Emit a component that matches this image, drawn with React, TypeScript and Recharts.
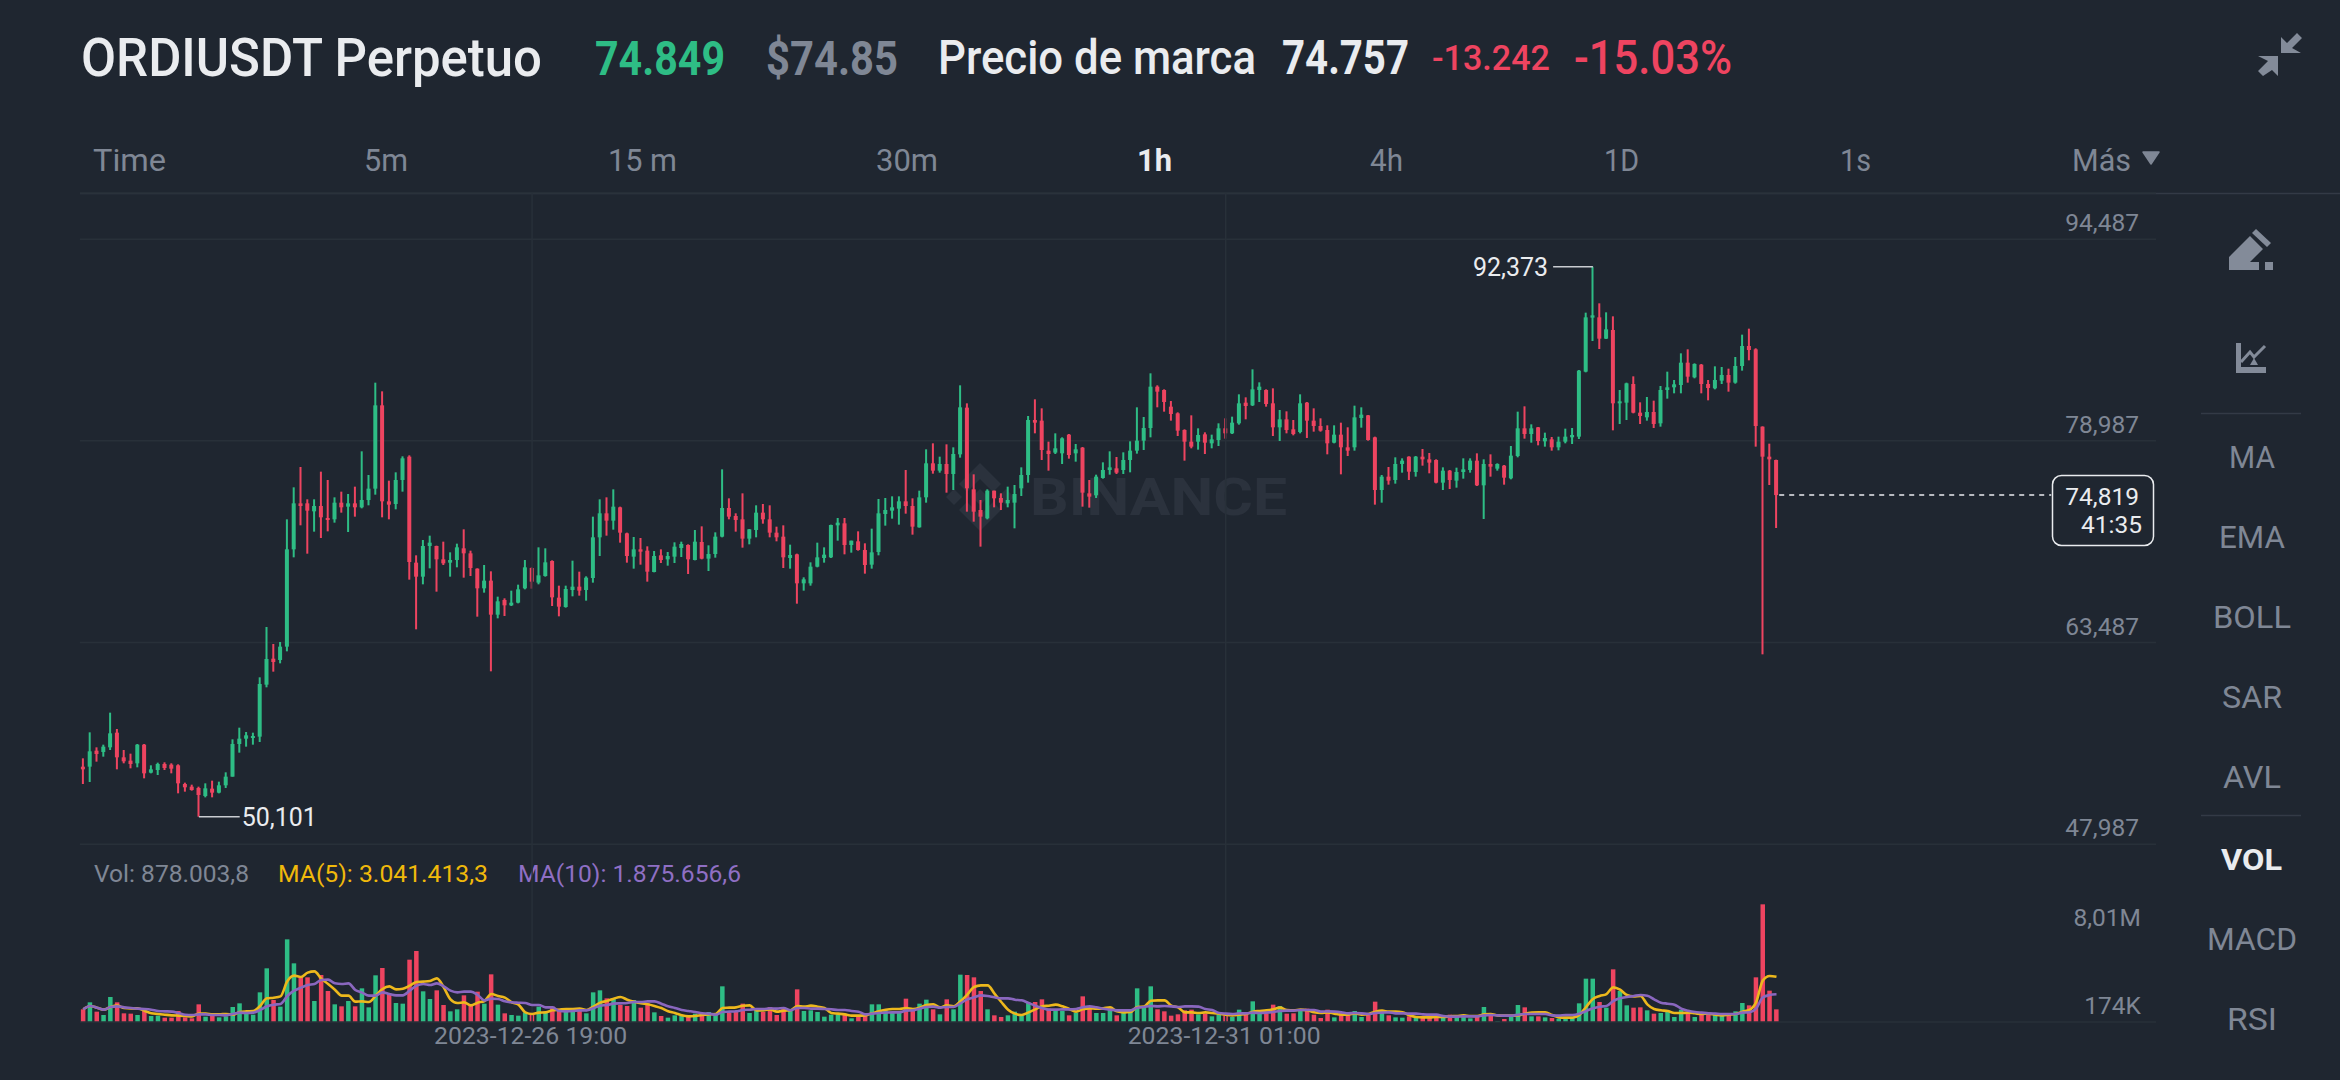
import React from 'react';
import { ComposedChart, Bar, Line, XAxis, YAxis, CartesianGrid, ReferenceLine, ReferenceDot } from 'recharts';

const opens = [53946,53946,55176,55074,55432,56559,54664,54408,54203,55637,
53485,53690,54152,54100,54049,52614,52409,52307,51692,52256,
51948,52512,53178,55688,56098,56150,56252,60249,62247,62145,
63170,70650,74186,74186,73571,73981,73059,72956,74237,73930,
74186,73879,74442,75314,81718,74340,74135,75980,77773,69626,
68550,70907,70907,69882,69626,69831,70728,70343,69165,67653,
68243,65629,66756,66346,66551,67653,69216,68089,68601,69754,
66935,66218,67525,67781,67525,68447,71573,73418,72854,73879,
71880,70087,70650,70548,68908,70189,69882,70087,70753,70984,
69831,71214,69933,70292,71624,73827,73213,72956,71471,72137,
73469,72956,71932,71624,69985,70266,68037,68037,69318,69985,
70035,72495,72649,70984,71266,70599,69472,70446,73366,73623,
73776,74340,73981,72342,74647,77261,76697,77210,76441,77952,
81539,75262,73674,73033,75160,74596,74186,74237,75339,76364,
80591,80540,78234,78081,78029,79464,78029,78465,74955,74801,
76133,76748,76876,76748,77517,78234,79003,79976,83153,82897,
81616,81104,79823,78926,78926,79490,78798,79054,79951,79566,
80335,81923,81718,82897,82897,81872,80028,80642,79874,79669,
81923,80540,80130,79823,78849,79464,78490,78490,80745,80950,
79259,75211,76236,75980,77210,77773,76595,77773,77568,77517,
75775,76697,75928,76594,76748,77466,75570,77210,76851,77081,
76108,77824,79951,79515,80028,78952,79105,78490,78926,79259,
79310,84306,88457,88482,86842,87509,81872,81923,83358,81155,
80796,81206,80335,82897,83102,83281,84998,83871,84844,83358,
83025,83614,84050,83461,84742,86279,86023,80079,77773,77517];

const highs = [54587,56585,55432,55637,58097,56841,55227,54946,55688,55688,
54049,54254,54280,54203,54126,52717,52563,52409,52665,52870,
52793,53511,56047,56943,56610,56559,60813,64681,63375,63528,
72956,75416,76979,74494,74494,76620,75980,74647,75083,74904,
75467,78183,76364,83460,82794,75928,76569,77799,77875,70190,
71368,71701,70933,71240,70420,71086,72188,70548,69190,69446,
68960,67013,66885,67473,67935,69831,69267,70804,70728,69805,
67858,67858,69779,68934,68575,73161,74494,74647,75262,73930,
71932,71599,71522,70881,70522,70650,70445,71189,71240,71035,
72137,72418,70958,71957,76799,74570,73418,74955,72213,74033,
74135,74033,72393,72495,71009,70317,68499,69651,71163,70804,
72546,73059,73059,71317,72034,71112,72239,74519,74596,74724,
74724,76748,74570,75160,78337,78798,77773,78721,78490,83256,
81872,76415,74442,75262,75160,74955,75467,75595,76953,80899,
82180,81488,78926,79566,79259,79515,78747,78516,75980,76389,
77337,78183,77747,78106,78952,81565,80822,84178,83256,82948,
82051,81180,79874,80950,79951,79643,79464,80335,80719,80847,
82564,82333,84485,83486,82948,83025,81360,81257,80591,82564,
81975,81488,80719,80181,80181,80386,80028,81693,81565,80975,
79310,76364,76979,77722,77645,77799,77824,78362,78055,77568,
76953,76748,76927,77645,77645,78029,77568,77952,77261,77133,
78593,81232,81642,80258,80053,79618,79285,79310,79925,79976,
84434,88841,92373,89558,88866,88559,82897,83461,83947,81949,
82359,82077,83204,84306,83666,85715,86023,84947,84895,83666,
84716,84665,84537,85433,87150,87611,86100,80104,78772,77542];

const lows = [52614,52768,54331,54715,55227,53741,54203,53818,53895,53050,
53434,53306,53690,53434,51897,52025,52102,50101,51589,51589,
51897,52307,53178,55023,55484,55637,55842,60044,61248,61888,
62811,70035,72495,70317,72009,71522,72034,72700,73469,71983,
73161,73802,74033,74852,73110,72956,73725,75083,68319,64502,
67961,69190,67397,69446,68550,69267,68473,68601,65475,67320,
61274,65347,65527,66295,66500,67576,67627,67961,68550,66295,
65501,66167,67038,67090,66705,68089,70138,71701,72162,71163,
69626,69165,69472,68166,68883,69600,69395,69600,70061,68755,
69805,69882,68985,70010,71573,72956,72009,70779,71035,71573,
72623,71573,71266,69216,69165,66474,67474,67858,69267,69626,
69985,71317,70266,70394,70548,68780,69165,70190,72470,73008,
72546,73392,71778,72316,74237,76466,76543,75006,75211,77696,
73546,72777,70856,72956,73879,73674,73879,72265,74750,75775,
79566,77517,76697,77978,77210,77619,77389,73930,73853,74596,
76082,76389,76441,76441,76569,78004,78285,79259,81565,81232,
80540,79361,77466,78414,78311,77978,78414,78593,79157,79515,
80232,80642,81667,81975,81616,79361,78977,79566,79413,79566,
79208,79695,79695,77952,78798,76415,77824,78234,80002,79003,
74084,74237,75621,75698,76543,75980,76236,77081,76492,75723,
75211,75288,75390,76082,76543,75518,72982,76236,76697,75621,
76031,77722,79157,78849,78644,78542,78234,78260,78798,78747,
79131,84255,86663,86048,86817,79797,80284,80591,81104,80284,
80540,79976,80079,82231,82641,82641,83461,83794,82641,82103,
82948,83358,82769,83384,84383,85177,78542,62580,75595,72290];

const closes = [53741,55125,54920,55484,56508,54664,54357,54152,55637,53434,
53741,54152,53844,53792,52665,52358,52153,51769,52281,51948,
52512,53178,55688,56098,56354,56303,60300,62222,61991,63170,
70650,74186,73981,73623,73981,73110,72905,74237,73879,74186,
73879,74442,75314,81718,74340,74084,75980,77645,69677,68550,
70907,71163,69882,69575,69831,70804,70343,69216,67653,68243,
65629,66654,66346,66551,67576,69267,68166,68652,69651,66961,
66244,67602,67781,67473,68473,71573,73418,72854,73930,71932,
70138,70650,70471,68934,70138,69831,70138,70856,71061,69882,
71240,69933,70292,71624,73827,73161,72905,71471,72188,73469,
72956,71932,71573,70035,70215,68037,68345,69318,70035,70241,
72521,72700,70984,71317,70599,69446,70420,73418,73674,73879,
74340,73981,72393,74647,77261,76697,77210,76441,77978,81565,
75339,73546,73161,75160,74571,74237,74442,74904,76364,80591,
80386,78285,77978,78414,79182,77901,78337,75006,74699,76236,
76748,76953,76544,77517,78234,79003,79976,83153,82769,81975,
81052,79771,78926,78542,79438,78849,79105,79951,79566,80386,
81872,81667,82948,83153,81821,80028,80642,79823,79515,81872,
80540,80130,79771,78798,79464,78490,78234,80796,81001,79054,
75211,76236,75928,77210,77466,76620,77773,77568,77312,75775,
76697,75980,76594,76799,77466,75570,77210,77005,77210,76159,
77850,79951,79515,79951,78977,79208,78490,78926,79310,79438,
84383,88482,88636,86842,87560,81872,82026,83409,81155,80899,
81206,80284,82897,83102,83333,84998,83922,84895,83358,83051,
83666,84050,83461,84742,86279,85971,80130,77773,77568,74819];

const volumesK = [879,1344,724,502,1698,1344,613,591,502,879,
436,458,325,325,768,347,281,1211,391,458,
347,414,1034,1277,613,524,2008,3603,1499,1056,
5529,3935,3093,3005,1432,3160,2097,1211,1078,1432,
1078,2274,1011,3138,3625,1942,1299,1255,4178,4754,
2075,1565,2141,1166,746,879,1809,1144,2052,1255,
3204,1189,613,502,458,679,569,1056,679,1056,
923,834,967,834,613,2008,2141,1609,1609,1166,
1100,1499,989,1277,679,436,325,480,436,369,
591,635,701,546,2407,657,724,1255,635,768,
701,1034,502,967,812,2207,768,812,701,391,
524,546,524,281,369,635,1211,1211,812,635,
635,1587,812,1255,1521,879,546,1543,879,3182,
3160,3005,2097,879,480,369,480,724,480,1321,
1366,1543,923,790,768,480,657,1742,1100,635,
635,923,480,768,701,2274,1078,2407,879,746,
458,546,812,856,546,591,414,546,480,369,
856,546,1410,657,591,1189,1100,591,613,790,
923,524,303,856,347,635,502,768,369,546,
1388,834,480,347,325,414,325,325,347,414,
480,524,414,524,281,480,1034,480,81,236,
436,1166,1011,414,414,347,303,258,325,369,
1277,2916,2916,1366,989,3536,2097,1144,989,1011,
812,591,635,768,369,856,701,369,524,524,
546,480,524,746,1299,1144,3005,7855,2119,878];

const ma5K = [879,1100,989,856,1034,1122,967,945,945,790,
613,569,524,480,458,436,414,591,591,546,
546,569,524,701,746,768,1100,1609,1654,1742,
2739,3115,3027,3315,3403,2916,2562,2185,1787,1787,
1388,1410,1366,1787,2230,2407,2207,2252,2451,2695,
2717,2761,2938,2340,1543,1299,1344,1144,1321,1432,
1897,1764,1654,1344,1189,679,569,657,679,812,
856,901,901,923,834,1056,1321,1432,1587,1698,
1521,1388,1277,1211,1100,967,746,635,480,414,
436,502,546,569,967,989,1011,1122,1144,812,
812,879,724,790,812,1100,1056,1122,1056,967,
635,591,546,458,458,480,613,746,856,901,
901,967,901,989,1166,1211,1011,1144,1078,1410,
1853,2362,2473,2473,1920,1366,856,591,502,679,
879,1078,1122,1189,1078,901,724,879,945,923,
945,1011,746,679,701,1034,1056,1454,1477,1477,
1122,1011,679,679,635,679,635,591,524,480,
524,569,724,768,812,879,989,834,812,856,
812,679,635,679,591,524,524,613,524,569,
724,790,724,724,679,480,369,347,347,369,
369,414,436,480,436,436,546,569,480,458,
458,480,591,657,679,679,502,347,325,325,
502,1034,1565,1764,1897,2340,2185,1831,1742,1764,
1211,901,812,768,635,635,657,613,569,591,
524,480,524,569,724,834,1344,2805,3093,3041];

const ma10K = [879,1100,989,856,1034,1078,1011,967,923,901,
856,768,746,724,635,524,502,546,546,502,
502,480,569,657,635,657,834,1078,1189,1233,
1764,2119,2318,2495,2562,2828,2850,2606,2562,2606,
2163,1986,1787,1787,2008,1897,1809,1809,2119,2451,
2562,2495,2606,2407,2119,2008,2052,2052,1831,1477,
1587,1565,1410,1344,1321,1299,1166,1166,1011,1011,
768,746,768,812,812,945,1122,1166,1255,1277,
1299,1366,1366,1410,1410,1255,1078,967,834,768,
701,613,591,524,701,724,746,834,856,901,
901,945,923,967,812,967,967,923,923,901,
879,834,834,768,724,546,591,635,657,679,
679,790,812,923,1034,1056,989,1034,1034,1277,
1543,1676,1809,1764,1676,1609,1609,1521,1477,1299,
1122,967,856,856,879,879,901,1011,1078,1011,
923,856,812,812,812,989,1034,1100,1078,1100,
1078,1034,1078,1078,1056,901,834,635,591,569,
613,613,657,635,657,701,768,790,790,834,
834,834,724,746,724,679,613,635,613,569,
635,657,679,613,613,591,591,546,524,524,
436,391,391,414,414,414,480,502,480,458,
458,524,569,569,569,569,480,458,502,502,
591,768,945,1056,1100,1432,1609,1698,1764,1831,
1787,1543,1321,1255,1189,923,790,701,657,613,
591,569,569,569,657,679,923,1676,1831,1876];

const priceTicks = [94487, 78987, 63487, 47987];
const volTicks = [8010, 174];
const volTickLabels = ['8,01M', '174K'];
const timeTickIndex = [66, 168];
const timeTickLabels = ['2023-12-26 19:00', '2023-12-31 01:00'];
const maxLabel = '92,373';
const minLabel = '50,101';
const LAST_PRICE = 74819;
const tabs: [string, number, number][] = [['Time',93,73],['5m',364,44],['15 m',608,69],['30m',876,62],['4h',1370,33],['1D',1604,35],['1s',1840,31],['Más',2072,59]];
const tools: [string, number, number][] = [['MA',468,46],['EMA',548,66],['BOLL',628,78],['SAR',708,60],['AVL',788,58],['MACD',950,90],['RSI',1030,50]];

const rows = opens.map((open, i) => ({
  idx: i, open, high: highs[i], low: lows[i], close: closes[i],
  range: [lows[i], highs[i]], vol: volumesK[i], ma5: ma5K[i], ma10: ma10K[i],
}));

const BG = '#1f2630';
const GREEN = '#2ebd85';
const RED = '#ee4460';
const GRAY = '#7f8795';
const GRID = '#283039';
const WHITE = '#eaecef';
const FONT = 'Roboto, sans-serif';
const X_DOMAIN: [number, number] = [-0.5, 304.81];

const Candle = (p: any) => {
  const d = p.payload;
  const { x, y, width, height } = p;
  if (!d || !(height > 0)) return null;
  const k = height / (d.high - d.low);
  const cx = x + width / 2;
  const top = y + (d.high - Math.max(d.open, d.close)) * k;
  const bot = y + (d.high - Math.min(d.open, d.close)) * k;
  const fill = d.close >= d.open ? GREEN : RED;
  return (
    <g>
      <rect x={cx - 1} y={y} width={2} height={height} fill={fill} />
      <rect x={x} y={top} width={width} height={Math.max(bot - top, 2)} fill={fill} />
    </g>
  );
};

const VolBar = (p: any) => {
  const d = p.payload;
  return <rect x={p.x} y={p.y} width={p.width} height={p.height} fill={d.close >= d.open ? GREEN : RED} />;
};

const PriceTick = (p: any) => (
  <text x={2139} y={p.y - 8} textAnchor="end" fill={GRAY} fontSize={24.5} fontFamily={FONT}>
    {p.payload.value.toLocaleString('en-US')}
  </text>
);

const VolTick = (p: any) => {
  const i = volTicks.indexOf(p.payload.value);
  return (
    <text x={2141} y={i === 0 ? p.y + 24 : p.y - 6} textAnchor="end" fill={GRAY} fontSize={24.5} fontFamily={FONT}>
      {volTickLabels[i]}
    </text>
  );
};

const TimeTick = (p: any) => (
  <text x={p.x - 1.5} y={p.y + 14} textAnchor="middle" fill={GRAY} fontSize={24.8} fontFamily={FONT}>
    {timeTickLabels[timeTickIndex.indexOf(p.payload.value)]}
  </text>
);

const T = ({ x, y, w, s, c, b, children }: any) => (
  <text x={x} y={y} fontSize={s} fill={c} fontWeight={b || 400} fontFamily={FONT}
    textLength={w} lengthAdjust="spacingAndGlyphs">{children}</text>
);

const Chrome = () => (
  <svg width={2340} height={1080} style={{ position: 'absolute', left: 0, top: 0 }}>
    <T x={81} y={76} w={461} s={54} c={WHITE} b={500}>ORDIUSDT Perpetuo</T>
    <T x={595} y={75} w={130} s={48} c={GREEN} b={700}>74.849</T>
    <T x={766} y={75} w={132} s={48} c={GRAY} b={700}>$74.85</T>
    <T x={938} y={74} w={318} s={48} c={WHITE} b={500}>Precio de marca</T>
    <T x={1282} y={74} w={127} s={48} c={WHITE} b={700}>74.757</T>
    <T x={1432} y={70} w={118} s={35} c={RED} b={500}>-13.242</T>
    <T x={1574} y={74} w={158} s={48} c={RED} b={500}>-15.03%</T>
    {tabs.map(([t, x, w]) => <T key={t} x={x} y={171} w={w} s={32} c={GRAY}>{t}</T>)}
    <T x={1137} y={171} w={35} s={32} c={WHITE} b={700}>1h</T>
    <polygon points="2143,152 2159,152 2151,164" fill={GRAY} stroke={GRAY} strokeWidth={1.5} strokeLinejoin="round" />
    <line x1={80} x2={2340} y1={193.5} y2={193.5} stroke="#333a46" strokeWidth={1.5} />
    <polygon points="2281,53 2281,37 2287,43 2297,33 2302,38 2292,48 2301,53" fill="#838b99" />
    <polygon points="2278,56 2278,76 2272,70 2263,76 2258,71 2268,61 2258,56" fill="#838b99" />
    <path d="M2229,270 V257 L2250,236 L2263,249 L2250,262 H2259 V270 Z" fill="#838b99" />
    <path d="M2256,229 L2271,243 L2267,247 L2252,233 Z" fill="#838b99" />
    <rect x={2265} y={262} width={8} height={8} fill="#838b99" />
    <path d="M2236,343 H2241 V367 H2266 V373 H2236 Z" fill="#838b99" />
    <polyline points="2241,362 2250,352 2254,357 2265,346" stroke="#838b99" strokeWidth={3} fill="none" />
    <polygon points="2250,365 2254,358 2258,365" fill="#838b99" />
    <line x1={2201} x2={2301} y1={413.5} y2={413.5} stroke="#333a46" strokeWidth={1.5} />
    <line x1={2201} x2={2301} y1={815.5} y2={815.5} stroke="#333a46" strokeWidth={1.5} />
    {tools.map(([t, y, w]) => <T key={t} x={2252 - w / 2} y={y} w={w} s={32} c={GRAY}>{t}</T>)}
    <T x={2221} y={870} w={61} s={30} c={WHITE} b={700}>VOL</T>
    <T x={94} y={882} w={155} s={24} c={GRAY}>Vol: 878.003,8</T>
    <T x={278} y={882} w={210} s={24} c="#f0b90b">MA(5): 3.041.413,3</T>
    <T x={518} y={882} w={223} s={24} c="#8f6fc4">MA(10): 1.875.656,6</T>
    <g fill="#2b323d">
      <polygon points="980,463 1001,484 993,492 980,479 967,492 959,484" />
      <polygon points="980,531 1001,510 993,502 980,515 967,502 959,510" />
      <polygon points="980,489 988,497 980,505 972,497" />
      <polygon points="954,489 962,497 954,505 946,497" />
      <polygon points="1006,489 1014,497 1006,505 998,497" />
    </g>
    <T x={1030} y={515} w={257} s={52} c="#2b323d" b={700}>BINANCE</T>
    <rect x={2052.5} y={475.5} width={101} height={70} rx={9} fill={BG} stroke={WHITE} strokeWidth={1.5} />
    <text x={2139} y={505} textAnchor="end" fill={WHITE} fontSize={24.5} fontFamily={FONT}>74,819</text>
    <text x={2142} y={533} textAnchor="end" fill={WHITE} fontSize={24.5} fontFamily={FONT}>41:35</text>
  </svg>
);

export default function App() {
  return (
    <div style={{ position: 'absolute', left: 0, top: 0, width: 2340, height: 1080, overflow: 'hidden', background: BG }}>
      <Chrome />
      <div style={{ position: 'absolute', left: 0, top: 0 }}>
        <ComposedChart width={2340} height={850} data={rows}
          margin={{ top: 193, right: 184, bottom: 5.8, left: 79.9 }}>
          <CartesianGrid stroke={GRID} strokeWidth={1.5} vertical={false} />
          <XAxis type="number" dataKey="idx" domain={X_DOMAIN} hide allowDataOverflow />
          <YAxis orientation="right" mirror width={1} domain={[47987, 98038]} ticks={priceTicks}
            interval={0} axisLine={false} tickLine={false} tick={PriceTick} allowDataOverflow />
          {timeTickIndex.map(v => <ReferenceLine key={v} x={v} stroke={GRID} strokeWidth={1.5} />)}
          <Bar dataKey="range" barSize={4} shape={Candle} isAnimationActive={false} />
          <ReferenceLine stroke="#c9ccd1" strokeWidth={1.5}
            segment={[{ x: 216.15, y: 92373 }, { x: 222, y: 92373 }]} />
          <ReferenceLine stroke="#c9ccd1" strokeWidth={1.5}
            segment={[{ x: 17, y: 50101 }, { x: 23, y: 50101 }]} />
          <ReferenceLine stroke={WHITE} strokeWidth={1.5} strokeDasharray="5 5"
            segment={[{ x: 249.4, y: LAST_PRICE }, { x: 289.4, y: LAST_PRICE }]} />
          <ReferenceDot x={216.15} y={92373} r={0} stroke="none"
            label={{ value: maxLabel, position: 'left', offset: 5, fill: WHITE, fontSize: 25, fontFamily: FONT }} />
          <ReferenceDot x={23} y={50101} r={0} stroke="none"
            label={{ value: minLabel, position: 'right', offset: 2, fill: WHITE, fontSize: 25, fontFamily: FONT }} />
        </ComposedChart>
      </div>
      <div style={{ position: 'absolute', left: 0, top: 845 }}>
        <ComposedChart width={2340} height={235} data={rows}
          margin={{ top: 0, right: 184, bottom: 0, left: 79.9 }}>
          <XAxis type="number" dataKey="idx" domain={X_DOMAIN} height={58} ticks={timeTickIndex} interval={0}
            axisLine={{ stroke: GRID, strokeWidth: 1.5 }} tickLine={false} tick={TimeTick} allowDataOverflow />
          <YAxis orientation="right" mirror width={1} domain={[37, 11797]} ticks={volTicks} interval={0}
            axisLine={false} tickLine={false} tick={VolTick} allowDataOverflow />
          {timeTickIndex.map(v => <ReferenceLine key={v} x={v} stroke={GRID} strokeWidth={1.5} />)}
          <Bar dataKey="vol" barSize={4.5} shape={VolBar} isAnimationActive={false} />
          <Line dataKey="ma5" type="monotone" stroke="#edb81c" strokeWidth={2.6} dot={false} activeDot={false} isAnimationActive={false} />
          <Line dataKey="ma10" type="monotone" stroke="#8a67bf" strokeWidth={2.6} dot={false} activeDot={false} isAnimationActive={false} />
        </ComposedChart>
      </div>
    </div>
  );
}
